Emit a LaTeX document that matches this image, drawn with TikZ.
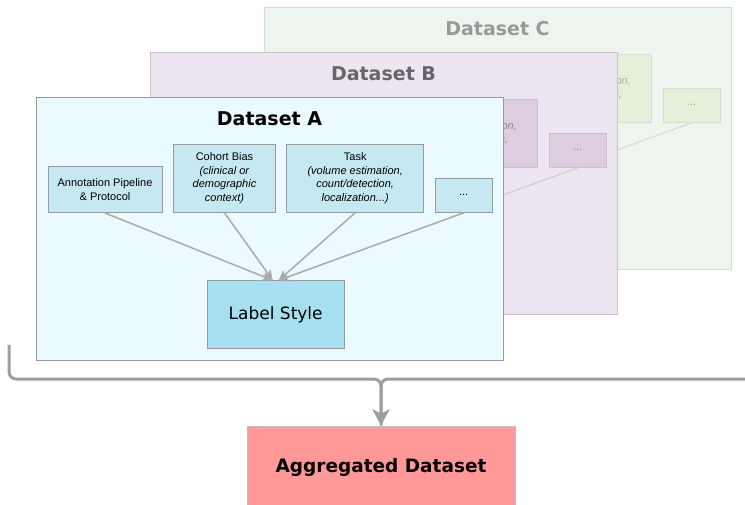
\documentclass[tikz,border=0pt]{standalone}
\usepackage{fontspec}
\setmainfont{DejaVu Sans}
\newfontfamily\boxfont{Liberation Sans}
\usetikzlibrary{arrows.meta}

% Panel colours, one set per dataset
\definecolor{panelA}{HTML}{EBFAFF}
\definecolor{boxA}{HTML}{C5E8F2}
\definecolor{styleA}{HTML}{A5DFF0}
\definecolor{edgeA}{HTML}{999999}
\definecolor{txtA}{HTML}{000000}
\definecolor{titleA}{HTML}{000000}
\definecolor{arrowA}{HTML}{AAAAAA}

\definecolor{panelB}{HTML}{EDE5F1}
\definecolor{boxB}{HTML}{DCCDE0}
\definecolor{styleB}{HTML}{DCCDE0}
\definecolor{edgeB}{HTML}{C8C2C8}
\definecolor{txtB}{HTML}{8A8A8A}
\definecolor{titleB}{HTML}{666666}
\definecolor{arrowB}{HTML}{D2D2D2}

\definecolor{panelC}{HTML}{EEF4EE}
\definecolor{boxC}{HTML}{E3F0DA}
\definecolor{styleC}{HTML}{E3F0DA}
\definecolor{edgeC}{HTML}{DADADA}
\definecolor{txtC}{HTML}{ABABAB}
\definecolor{titleC}{HTML}{999999}
\definecolor{arrowC}{HTML}{DDDDDD}

\definecolor{aggfill}{HTML}{FF9999}
\definecolor{bracegray}{HTML}{9E9E9E}

\tikzset{
  factor/.style={draw=edge#1, fill=box#1, line width=1pt, align=center,
    inner sep=1pt, text=txt#1, font=\boxfont\fontsize{11}{13.6}\selectfont},
  flow/.style={draw=arrow#1, line width=1.5pt, -{Stealth[length=10pt,width=9pt,inset=2pt]}},
  brace/.style={draw=bracegray, line width=3pt, rounded corners=7pt}
}

\begin{document}
\begin{tikzpicture}[x=1pt,y=-1pt]
  \useasboundingbox (0,0) rectangle (745,505);

  % The three dataset panels, back to front
  \foreach \name/\dx/\dy in {C/228/-90, B/114/-45, A/0/0} {
    \begin{scope}[shift={(\dx,\dy)}]
      \draw[draw=edge\name, fill=panel\name, line width=1pt] (36,98) rectangle (503,360);
      \node[text=title\name, font=\fontsize{19}{22}\selectfont\bfseries] (\name-title) at (269.5,119) {Dataset \name};

      % Factors
      \node[factor=\name, minimum width=114pt, minimum height=46pt] (\name-anno) at (105,189.5)
        {Annotation Pipeline\\\& Protocol};
      \node[factor=\name, minimum width=102pt, minimum height=68pt] (\name-cohort) at (224.5,178.3)
        {Cohort Bias\\\textit{(clinical or}\\\textit{demographic}\\\textit{context)}};
      \node[factor=\name, minimum width=137pt, minimum height=68pt] (\name-task) at (355.2,178.3)
        {Task\\\textit{(volume estimation,}\\\textit{count/detection,}\\\textit{localization...)}};
      \node[factor=\name, minimum width=57pt, minimum height=34pt] (\name-more) at (463.7,195.3) {...};

      % Label style
      \node[draw=edge\name, fill=style\name, line width=1pt, minimum width=137pt, minimum height=68pt,
        text=txt\name, font=\fontsize{17}{20}\selectfont] (\name-label) at (275.7,314.8) {Label Style};

      \draw[flow=\name] (\name-anno.south) -- ([xshift=-3pt]\name-label.north);
      \draw[flow=\name] (\name-cohort.south) -- ([xshift=-3pt]\name-label.north);
      \draw[flow=\name] (\name-task.south) -- ([xshift=3pt]\name-label.north);
      \draw[flow=\name] (\name-more.south) -- ([xshift=3pt]\name-label.north);
    \end{scope}
  }

  % Aggregated dataset
  \node[draw=black!25, fill=aggfill, line width=1pt, minimum width=268pt, minimum height=82pt,
    font=\fontsize{18.5}{22}\selectfont\bfseries] (agg) at (381,467) {Aggregated Dataset};

  % Brace gathering the panels
  \coordinate (brace-left) at (9,345);
  \coordinate (brace-right) at (750,379);
  \coordinate (brace-mid) at (381,379);
  \draw[brace] (brace-left) |- (brace-mid) -- (agg.north);
  \draw[brace, -{Stealth[length=16pt,width=17pt,inset=4pt]}] (brace-right) -- (brace-mid) -- (agg.north);
\end{tikzpicture}
\end{document}
